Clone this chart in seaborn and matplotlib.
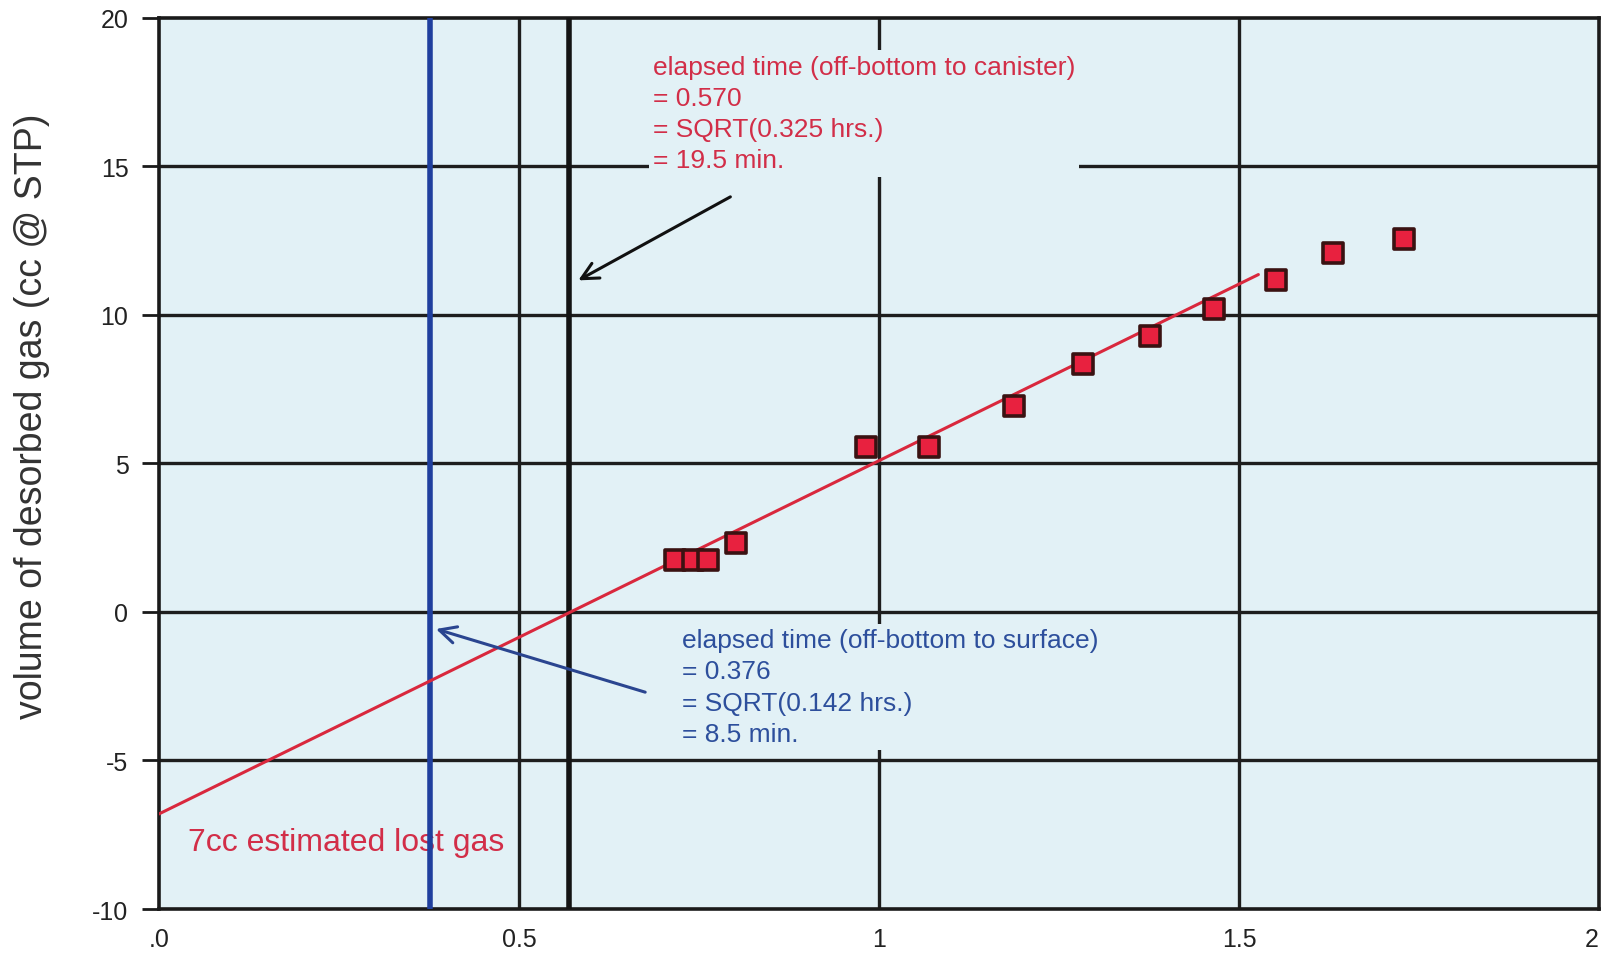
import numpy as np
import pandas as pd
import matplotlib
matplotlib.use("Agg")
import matplotlib.pyplot as plt
import seaborn as sns

# desorbed gas readings (x = sqrt of elapsed hours, y = cc @ STP)
sqrt_time = [0.717, 0.742, 0.762, 0.801, 0.982, 1.069, 1.187, 1.284, 1.377, 1.466, 1.552, 1.630, 1.729]
gas_volume = [1.76, 1.76, 1.76, 2.31, 5.56, 5.56, 6.94, 8.35, 9.29, 10.18, 11.18, 12.08, 12.53]

# regression line (end points)
fit_x = [0.0, 1.527]
fit_y = [-6.8, 11.35]

surface_time = 0.376   # off-bottom to surface
canister_time = 0.570  # off-bottom to canister

xticks = [0, 0.5, 1, 1.5, 2]
xtick_labels = [".0", "0.5", "1", "1.5", "2"]
yticks = [-10, -5, 0, 5, 10, 15, 20]
ytick_labels = ["-10", "-5", "0", "5", "10", "15", "20"]

bg = "#e2f1f6"
red_txt = "#d22e48"
blue_txt = "#2d4f9c"

sns.set_style("white", {"axes.facecolor": bg, "axes.edgecolor": "#1a1a1a"})
plt.rcParams['font.family'] = ['Liberation Sans', 'DejaVu Sans']

fig = plt.figure(figsize=(16.06, 9.54), dpi=100)
ax = fig.add_axes([0.0990, 0.0461, 0.8966, 0.9345])

df = pd.DataFrame({"x": sqrt_time, "y": gas_volume})
fit = pd.DataFrame({"x": fit_x, "y": fit_y})

# grid
for gx in [0.5, 1.0, 1.5]:
    ax.axvline(gx, color="#1e1e1e", lw=2.4, zorder=1)
for gy in [-5, 0, 5, 10, 15]:
    ax.axhline(gy, color="#1e1e1e", lw=2.4, zorder=1)

sns.lineplot(data=fit, x="x", y="y", ax=ax, color="#d9283d", lw=2.2, zorder=5)
sns.scatterplot(data=df, x="x", y="y", ax=ax, marker="s", s=190, color="#e8213f",
                edgecolor="#3a1212", linewidth=2.6, zorder=6)

ax.axvline(canister_time, color="#141414", lw=4.0, zorder=4)
ax.axvline(surface_time, color="#1f3f9e", lw=4.0, zorder=4)

box = dict(facecolor=bg, edgecolor="none", pad=3)

ax.text(0.686, 18.75, "elapsed time (off-bottom to canister)\n= 0.570\n= SQRT(0.325 hrs.)\n= 19.5 min.",
        color=red_txt, fontsize=19, va="top", ha="left", linespacing=1.38, bbox=box, zorder=3)
ax.annotate("", xy=(0.579, 11.11), xytext=(0.797, 14.01),
            arrowprops=dict(arrowstyle="->", color="#111111", lw=2.2, mutation_scale=30), zorder=7)

ax.text(0.726, -0.55, "elapsed time (off-bottom to surface)\n= 0.376\n= SQRT(0.142 hrs.)\n= 8.5 min.",
        color=blue_txt, fontsize=19, va="top", ha="left", linespacing=1.38, bbox=box, zorder=3)
ax.annotate("", xy=(0.381, -0.55), xytext=(0.679, -2.73),
            arrowprops=dict(arrowstyle="->", color="#2a4590", lw=2.2, mutation_scale=30), zorder=7)

ax.text(0.040, -7.73, "7cc estimated lost gas", color=red_txt, fontsize=23,
        va="center", ha="left", bbox=dict(facecolor=bg, edgecolor="none", pad=6), zorder=3)

ax.set_xlim(0, 2)
ax.set_ylim(-10, 20)
ax.set_xticks(xticks)
ax.set_xticklabels(xtick_labels)
ax.set_yticks(yticks)
ax.set_yticklabels(ytick_labels)
ax.tick_params(axis="x", length=0, pad=13, labelsize=18, labelcolor="#222222")
ax.tick_params(axis="y", direction="out", length=12, width=2, pad=10, labelsize=18,
               labelcolor="#222222", left=True, color="#1a1a1a")
# last x label sits just inside the right edge
ax.get_xticklabels()[-1].set_horizontalalignment("right")
for sp in ax.spines.values():
    sp.set_linewidth(2.6)
    sp.set_visible(True)

ax.set_xlabel("")
ax.set_ylabel("volume of desorbed gas (cc @ STP)", fontsize=27, color="#333333")
ax.yaxis.set_label_coords(-0.076, 0.554)

fig.savefig("out.png", dpi=100, facecolor="white")
